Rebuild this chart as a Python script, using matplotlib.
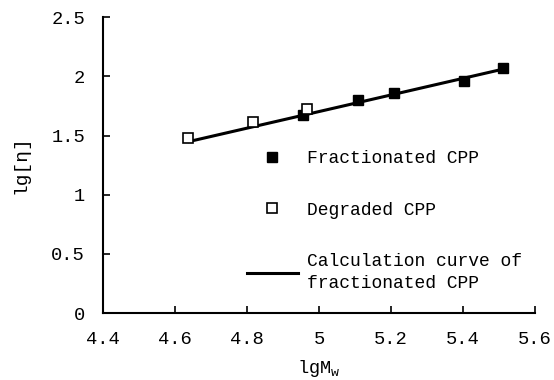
import matplotlib
matplotlib.use("Agg")
import matplotlib.pyplot as plt

plt.rcParams['font.family'] = ['Liberation Mono', 'DejaVu Sans Mono']
plt.rcParams['mathtext.fontset'] = 'custom'
plt.rcParams['mathtext.rm'] = 'Liberation Mono'
plt.rcParams['mathtext.it'] = 'Liberation Mono'

frac_x = [4.954, 5.107, 5.209, 5.403, 5.510]
frac_y = [1.672, 1.800, 1.861, 1.962, 2.072]
deg_x = [4.636, 4.817, 4.966]
deg_y = [1.478, 1.613, 1.723]
calc_x = [4.64, 5.51]
calc_y = [1.45, 2.06]

xticks = [4.4, 4.6, 4.8, 5.0, 5.2, 5.4, 5.6]
xticklabels = ['4.4', '4.6', '4.8', '5', '5.2', '5.4', '5.6']
yticks = [0, 0.5, 1, 1.5, 2, 2.5]
yticklabels = ['0', '0.5', '1', '1.5', '2', '2.5']

fig = plt.figure(figsize=(5.54, 3.80), dpi=100)
ax = fig.add_axes([0.186, 0.176, 0.780, 0.779])

ax.plot(calc_x, calc_y, color='black', lw=2.2, zorder=2,
        label='Calculation curve of\nfractionated CPP')
ax.plot(frac_x, frac_y, 's', color='black', ms=7, mfc='black', zorder=3,
        label='Fractionated CPP', linestyle='none')
ax.plot(deg_x, deg_y, 's', color='black', ms=7, mfc='white', mew=1.2, zorder=4,
        label='Degraded CPP', linestyle='none')

ax.set_xlim(4.4, 5.6)
ax.set_ylim(0, 2.5)
ax.set_xticks(xticks)
ax.set_xticklabels(xticklabels)
ax.set_yticks(yticks)
ax.set_yticklabels(yticklabels)
ax.tick_params(direction='in', length=5, width=1.2, labelsize=13.5, pad=13)
for s in ['top', 'right']:
    ax.spines[s].set_visible(False)
for s in ['left', 'bottom']:
    ax.spines[s].set_linewidth(1.5)

ax.set_xlabel(r'lgM$_\mathrm{w}$', fontsize=13.5, labelpad=7)
ax.set_ylabel('lg[η]', fontsize=14, labelpad=16)

handles, labels = ax.get_legend_handles_labels()
order = [1, 2, 0]
leg = ax.legend([handles[i] for i in order], [labels[i] for i in order],
                frameon=False, fontsize=13, loc='upper left',
                bbox_to_anchor=(0.296, 0.605), handlelength=2.8, labelspacing=1.9,
                handletextpad=0.5, borderpad=0.4)
leg.get_texts()[2].set_linespacing(1.4)

fig.savefig('out.png', dpi=100)
